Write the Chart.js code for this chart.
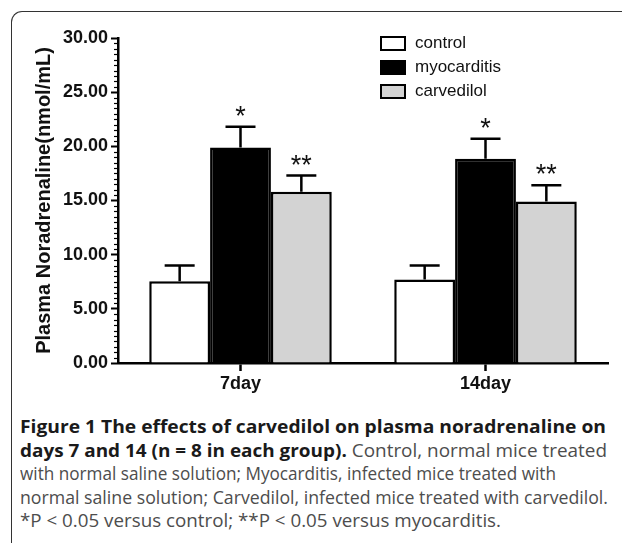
<!DOCTYPE html>
<html>
<head>
<meta charset="utf-8">
<script src="https://cdn.jsdelivr.net/npm/chart.js@4/dist/chart.umd.min.js"></script>
<style>
  html, body { margin: 0; padding: 0; background: #fff; }
  body { width: 622px; height: 543px; position: relative; overflow: hidden; }
  #frame { position: absolute; left: 11px; top: 11px; width: 700px; height: 600px;
           border-left: 1.6px solid #333; border-top: 1.6px solid #333; border-top-left-radius: 11px; }
  #chartWrap { position: absolute; left: 0; top: 0; width: 622px; height: 400px; }
  #legend { position: absolute; left: 380px; top: 31px; font-family: "Liberation Sans", Arial, sans-serif; font-size: 17px; color: #111; }
  .lrow { height: 24px; display: flex; align-items: center; }
  .lbox { width: 22px; height: 11px; border: 2px solid #000; margin-right: 9px; }
  #caption { position: absolute; left: 20px; top: 415px; width: 610px; font-family: "Open Sans", "Noto Sans", sans-serif; font-size: 18px; color: #4d4d4d; }
  .cl { height: 23.5px; line-height: 23.5px; white-space: nowrap; }
  .cl > span { display: inline-block; transform-origin: 0 50%; }
  .cl b { color: #1a1a1a; font-weight: 700; }
</style>
</head>
<body>
<div id="frame"></div>
<div id="chartWrap"><canvas id="c" width="622" height="400"></canvas></div>
<div id="legend"></div>
<div id="caption">
  <div class="cl" data-w="586"><span><b>Figure 1 The effects of carvedilol on plasma noradrenaline on</b></span></div>
  <div class="cl" data-w="587"><span><b>days 7 and 14 (n = 8 in each group).</b> Control, normal mice treated</span></div>
  <div class="cl" data-w="536"><span>with normal saline solution; Myocarditis, infected mice treated with</span></div>
  <div class="cl" data-w="588"><span>normal saline solution; Carvedilol, infected mice treated with carvedilol.</span></div>
  <div class="cl" data-w="481"><span>*P &lt; 0.05 versus control; **P &lt; 0.05 versus myocarditis.</span></div>
</div>
<script>
// fit caption lines to the reference widths
document.querySelectorAll('#caption .cl').forEach(d => {
  const s = d.firstElementChild;
  const w = s.getBoundingClientRect().width;
  const t = parseFloat(d.dataset.w);
  if (w > 0) s.style.transform = 'scaleX(' + (t / w) + ')';
});

// ---- data ----
const categories = ['7day', '14day'];
const seriesNames = ['control', 'myocarditis', 'carvedilol'];
const control = [7.55, 7.7];
const myocarditis = [19.9, 18.85];
const carvedilol = [15.8, 14.9];
const controlErr = [1.45, 1.3];
const myocarditisErr = [1.9, 1.85];
const carvedilolErr = [1.5, 1.5];
const controlMarks = ['', ''];
const myocarditisMarks = ['*', '*'];
const carvedilolMarks = ['**', '**'];
const yMin = 0, yMax = 30, yStep = 5, yMinorStep = 0.5;

const fills = ['#ffffff', '#000000', '#d3d3d3'];
const values = [control, myocarditis, carvedilol];
const errs = [controlErr, myocarditisErr, carvedilolErr];
const marks = [controlMarks, myocarditisMarks, carvedilolMarks];

// legend (HTML)
const lg = document.getElementById('legend');
seriesNames.forEach((n, i) => {
  const r = document.createElement('div'); r.className = 'lrow';
  const b = document.createElement('div'); b.className = 'lbox'; b.style.background = fills[i];
  const t = document.createElement('span'); t.textContent = n;
  r.appendChild(b); r.appendChild(t); lg.appendChild(r);
});

const errPlugin = {
  id: 'errbars',
  afterDatasetsDraw(chart) {
    const ctx = chart.ctx, ys = chart.scales.y;
    ctx.save();
    chart.data.datasets.forEach((ds, di) => {
      const meta = chart.getDatasetMeta(di);
      meta.data.forEach((el, i) => {
        const top = ys.getPixelForValue(values[di][i] + errs[di][i]);
        ctx.strokeStyle = '#000'; ctx.lineWidth = 2.5; ctx.lineCap = 'butt';
        ctx.beginPath();
        ctx.moveTo(el.x, el.y); ctx.lineTo(el.x, top);
        ctx.moveTo(el.x - 15, top); ctx.lineTo(el.x + 15, top);
        ctx.stroke();
        const m = marks[di][i];
        if (m) {
          ctx.fillStyle = '#111';
          ctx.font = '27px "Liberation Sans", Arial, sans-serif';
          ctx.textAlign = 'center'; ctx.textBaseline = 'alphabetic';
          ctx.fillText(m, el.x, top - 2);
        }
      });
    });
    ctx.restore();
  }
};

const minorTicks = {
  id: 'minorTicks',
  afterDraw(chart) {
    const ctx = chart.ctx, ys = chart.scales.y;
    const x0 = chart.chartArea.left;
    ctx.save();
    ctx.strokeStyle = '#000'; ctx.lineWidth = 1.2;
    for (let v = yMin; v <= yMax + 1e-9; v += yMinorStep) {
      if (Math.abs(v / yStep - Math.round(v / yStep)) < 1e-6) continue;
      const y = Math.round(ys.getPixelForValue(v)) + 0.5;
      ctx.beginPath(); ctx.moveTo(x0 - 4, y); ctx.lineTo(x0, y); ctx.stroke();
    }
    ctx.restore();
  }
};

new Chart(document.getElementById('c'), {
  type: 'bar',
  data: {
    labels: categories,
    datasets: seriesNames.map((n, i) => ({
      label: n,
      data: values[i],
      backgroundColor: fills[i],
      borderColor: '#000',
      borderWidth: 2.5,
      categoryPercentage: 0.745,
      barPercentage: 1.0
    }))
  },
  options: {
    responsive: false,
    animation: false,
    devicePixelRatio: 1,
    layout: { padding: { left: 0, right: 14, top: 38, bottom: 0 } },
    plugins: { legend: { display: false }, tooltip: { enabled: false } },
    scales: {
      x: {
        grid: { display: true, drawOnChartArea: false, offset: false, tickLength: 8, tickWidth: 2.5, tickColor: '#000' },
        border: { display: true, color: '#000', width: 2.5 },
        ticks: { color: '#111', padding: 2, font: { family: '"Liberation Sans", Arial, sans-serif', size: 18, weight: 'bold' } },
        afterFit(s) { s.height = 37; }
      },
      y: {
        min: yMin, max: yMax,
        grid: { display: true, drawOnChartArea: false, tickLength: 7, tickWidth: 2, tickColor: '#000' },
        border: { display: true, color: '#000', width: 2.5 },
        ticks: { stepSize: yStep, color: '#111', padding: 3,
                 font: { family: '"Liberation Sans", Arial, sans-serif', size: 18, weight: 'bold' },
                 callback: v => Number(v).toFixed(2) },
        title: { display: true, text: 'Plasma Noradrenaline(nmol/mL)', color: '#111',
                 padding: { top: 32, bottom: 0 },
                 font: { family: '"Liberation Sans", Arial, sans-serif', size: 20, weight: 'bold' } },
        afterFit(s) { s.width = 118; }
      }
    }
  },
  plugins: [errPlugin, minorTicks]
});
</script>
</body>
</html>
